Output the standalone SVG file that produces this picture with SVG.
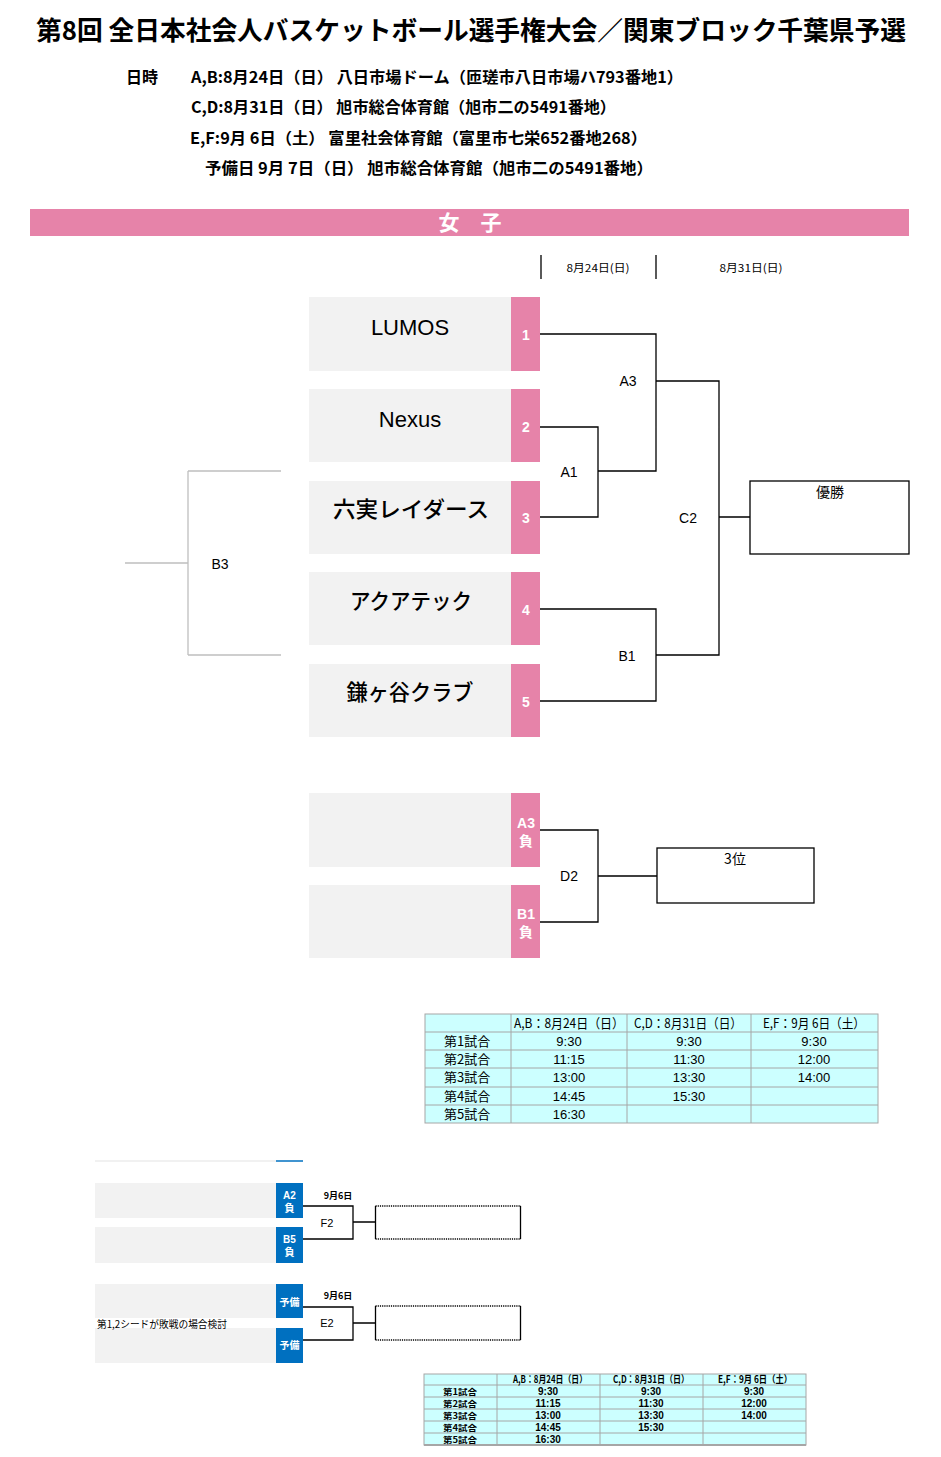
<svg xmlns="http://www.w3.org/2000/svg" width="941" height="1457" viewBox="0 0 941 1457">
<style>
text{font-family:"Liberation Sans","Noto Sans CJK JP",sans-serif;fill:#000}
.jp{font-family:"Noto Sans CJK JP",sans-serif}
.title{font-size:26px;font-weight:bold}
.info{font-size:16px;font-weight:bold}
.row{fill:#F2F2F2}
.tag{fill:#E683A9}
.btag{fill:#0070C0}
.name{font-size:22px;font-weight:500;text-anchor:middle}
.num{font-size:14px;font-weight:bold;fill:#fff;text-anchor:middle}
.btxt{font-size:10px;font-weight:bold;fill:#fff;text-anchor:middle}
.lbl{font-size:14px;text-anchor:middle}
.sm{font-size:11px;text-anchor:middle}
.ln{fill:none;stroke:#000;stroke-width:1.3}
.gl{fill:none;stroke:#BFBFBF;stroke-width:1.3}
.box{fill:#fff;stroke:#000;stroke-width:1.3}
.t1{font-size:13px}
.t2{font-size:10px;font-weight:bold}
.t2l{font-size:8.2px;font-weight:bold}
.c{text-anchor:middle}
.grid{fill:none;stroke:#A6A6A6;stroke-width:1}
</style>
<rect width="941" height="1457" fill="#fff"/>

<g id="header">
<text class="title jp" x="36" y="40" textLength="870" lengthAdjust="spacingAndGlyphs">第8回 全日本社会人バスケットボール選手権大会／関東ブロック千葉県予選</text>
<text class="info jp" x="126" y="83" textLength="32" lengthAdjust="spacingAndGlyphs">日時</text>
<text class="info jp" x="191" y="83" textLength="492" lengthAdjust="spacingAndGlyphs">A,B:8月24日（日） 八日市場ドーム（匝瑳市八日市場ハ793番地1）</text>
<text class="info jp" x="191" y="113" textLength="425" lengthAdjust="spacingAndGlyphs">C,D:8月31日（日） 旭市総合体育館（旭市二の5491番地）</text>
<text class="info jp" x="190" y="144" textLength="457" lengthAdjust="spacingAndGlyphs">E,F:9月 6日（土） 富里社会体育館（富里市七栄652番地268）</text>
<text class="info jp" x="205" y="174" textLength="448" lengthAdjust="spacingAndGlyphs">予備日 9月 7日（日） 旭市総合体育館（旭市二の5491番地）</text>
</g>

<g id="banner">
<rect x="30" y="209" width="879" height="27" fill="#E683A9"/>
<text class="jp" x="470" y="230" font-size="21" font-weight="bold" style="fill:#fff" text-anchor="middle">女　子</text>
</g>

<g id="dates">
<line class="ln" x1="541" y1="255" x2="541" y2="279"/>
<line class="ln" x1="656" y1="255" x2="656" y2="279"/>
<text class="sm jp" x="598" y="272" textLength="63" lengthAdjust="spacingAndGlyphs">8月24日(日)</text>
<text class="sm jp" x="751" y="272" textLength="63" lengthAdjust="spacingAndGlyphs">8月31日(日)</text>
</g>

<g id="team1">
<rect class="row" x="309" y="297" width="202" height="74"/>
<rect class="tag" x="511" y="297" width="29" height="74"/>
<text class="name" x="410" y="335">LUMOS</text>
<text class="num" x="526" y="340">1</text>
</g>
<g id="team2">
<rect class="row" x="309" y="389" width="202" height="73"/>
<rect class="tag" x="511" y="389" width="29" height="73"/>
<text class="name" x="410" y="427">Nexus</text>
<text class="num" x="526" y="432">2</text>
</g>
<g id="team3">
<rect class="row" x="309" y="481" width="202" height="73"/>
<rect class="tag" x="511" y="481" width="29" height="73"/>
<text class="name jp" x="411" y="517" textLength="156" lengthAdjust="spacingAndGlyphs">六実レイダース</text>
<text class="num" x="526" y="523">3</text>
</g>
<g id="team4">
<rect class="row" x="309" y="572" width="202" height="73"/>
<rect class="tag" x="511" y="572" width="29" height="73"/>
<text class="name jp" x="411" y="609" textLength="122" lengthAdjust="spacingAndGlyphs">アクアテック</text>
<text class="num" x="526" y="615">4</text>
</g>
<g id="team5">
<rect class="row" x="309" y="664" width="202" height="73"/>
<rect class="tag" x="511" y="664" width="29" height="73"/>
<text class="name jp" x="410" y="700" textLength="127" lengthAdjust="spacingAndGlyphs">鎌ヶ谷クラブ</text>
<text class="num" x="526" y="707">5</text>
</g>

<g id="champion">
<rect class="box" x="750" y="481" width="159" height="73"/>
<text class="lbl jp" x="830" y="497">優勝</text>
</g>

<g id="loserA3">
<rect class="row" x="309" y="793" width="202" height="74"/>
<rect class="tag" x="511" y="793" width="29" height="74"/>
<text class="num" x="526" y="828">A3</text>
<text class="num jp" x="526" y="846">負</text>
</g>
<g id="loserB1">
<rect class="row" x="309" y="885" width="202" height="73"/>
<rect class="tag" x="511" y="885" width="29" height="73"/>
<text class="num" x="526" y="919">B1</text>
<text class="num jp" x="526" y="937">負</text>
</g>
<g id="third">
<rect class="box" x="657" y="848" width="157" height="55"/>
<text class="lbl jp" x="735" y="864">3位</text>
</g>

<g id="connectors">
<path class="ln" d="M540,334 H656 V471 H598 M656,381 H719 V655 H656 M540,427 H598 V517 H540 M540,609 H656 V701 H540 M719,517 H750"/>
<path class="gl" d="M125,563 H188 M188,471 V655 M188,471 H281 M188,655 H281"/>
<path class="ln" d="M540,830 H598 V922 H540 M598,876 H657"/>
<path class="ln" d="M303,1206 H353 V1239 H303 M353,1222 H375"/>
<path class="ln" d="M303,1307 H353 V1340 H303 M353,1323 H375"/>
</g>

<g id="matchlabels">
<text class="lbl" x="628" y="386">A3</text>
<text class="lbl" x="569" y="477">A1</text>
<text class="lbl" x="688" y="523">C2</text>
<text class="lbl" x="627" y="661">B1</text>
<text class="lbl" x="220" y="569">B3</text>
<text class="lbl" x="569" y="881">D2</text>
</g>

<g id="table1">
<rect x="425" y="1014" width="453" height="109" fill="#CCFFFF" stroke="#A6A6A6"/>
<path class="grid" d="M425,1032 H878 M425,1050 H878 M425,1068 H878 M425,1087 H878 M425,1105 H878 M511,1014 V1123 M627,1014 V1123 M751,1014 V1123"/>
<text class="t1 jp c" x="569" y="1028" textLength="110" lengthAdjust="spacingAndGlyphs">A,B：8月24日（日）</text>
<text class="t1 jp c" x="688" y="1028" textLength="108" lengthAdjust="spacingAndGlyphs">C,D：8月31日（日）</text>
<text class="t1 jp c" x="814" y="1028" textLength="102" lengthAdjust="spacingAndGlyphs">E,F：9月 6日（土）</text>
<text class="t1 jp" x="444" y="1046">第1試合</text>
<text class="t1 jp" x="444" y="1064">第2試合</text>
<text class="t1 jp" x="444" y="1082">第3試合</text>
<text class="t1 jp" x="444" y="1101">第4試合</text>
<text class="t1 jp" x="444" y="1119">第5試合</text>
<text class="t1 c" x="569" y="1046">9:30</text>
<text class="t1 c" x="569" y="1064">11:15</text>
<text class="t1 c" x="569" y="1082">13:00</text>
<text class="t1 c" x="569" y="1101">14:45</text>
<text class="t1 c" x="569" y="1119">16:30</text>
<text class="t1 c" x="689" y="1046">9:30</text>
<text class="t1 c" x="689" y="1064">11:30</text>
<text class="t1 c" x="689" y="1082">13:30</text>
<text class="t1 c" x="689" y="1101">15:30</text>
<text class="t1 c" x="814" y="1046">9:30</text>
<text class="t1 c" x="814" y="1064">12:00</text>
<text class="t1 c" x="814" y="1082">14:00</text>
</g>

<g id="extra-top">
<line x1="95" y1="1161" x2="276" y2="1161" stroke="#EDEDED" stroke-width="1.5"/>
<line x1="276" y1="1161" x2="303" y2="1161" stroke="#0070C0" stroke-width="1.5"/>
</g>
<g id="lossA2">
<rect class="row" x="95" y="1183" width="181" height="35"/>
<rect class="btag" x="276" y="1183" width="27" height="35"/>
<text class="btxt" x="289.5" y="1199">A2</text>
<text class="btxt jp" x="289.5" y="1212">負</text>
</g>
<g id="lossB5">
<rect class="row" x="95" y="1227" width="181" height="36"/>
<rect class="btag" x="276" y="1227" width="27" height="36"/>
<text class="btxt" x="289.5" y="1243">B5</text>
<text class="btxt jp" x="289.5" y="1256">負</text>
</g>
<g id="reserve1">
<rect class="row" x="95" y="1284" width="181" height="34"/>
<rect class="btag" x="276" y="1284" width="27" height="34"/>
<text class="btxt jp" x="289.5" y="1306" font-size="9.5">予備</text>
</g>
<g id="reserve2">
<rect class="row" x="95" y="1328" width="181" height="35"/>
<rect class="btag" x="276" y="1328" width="27" height="35"/>
<text class="btxt jp" x="289.5" y="1349" font-size="9.5">予備</text>
</g>
<g id="note">
<text class="jp" x="97" y="1327.5" font-size="10" textLength="130" lengthAdjust="spacingAndGlyphs">第1,2シードが敗戦の場合検討</text>
</g>
<g id="F2">
<text class="jp c" x="338" y="1199" font-size="9" font-weight="bold">9月6日</text>
<text class="c" x="327" y="1227" font-size="11">F2</text>
<line x1="375.5" y1="1206" x2="521" y2="1206" stroke="#000" stroke-width="1.3" stroke-dasharray="1.2 1"/>
<line x1="375.5" y1="1239" x2="521" y2="1239" stroke="#000" stroke-width="1.3" stroke-dasharray="1.2 1"/>
<line class="ln" x1="375.5" y1="1206" x2="375.5" y2="1239"/>
<line class="ln" x1="520.5" y1="1206" x2="520.5" y2="1239"/>
</g>
<g id="E2">
<text class="jp c" x="338" y="1299" font-size="9" font-weight="bold">9月6日</text>
<text class="c" x="327" y="1327" font-size="11">E2</text>
<line x1="375.5" y1="1306" x2="521" y2="1306" stroke="#000" stroke-width="1.3" stroke-dasharray="1.2 1"/>
<line x1="375.5" y1="1340" x2="521" y2="1340" stroke="#000" stroke-width="1.3" stroke-dasharray="1.2 1"/>
<line class="ln" x1="375.5" y1="1306" x2="375.5" y2="1340"/>
<line class="ln" x1="520.5" y1="1306" x2="520.5" y2="1340"/>
</g>

<g id="table2">
<rect x="424" y="1374" width="382" height="71" fill="#CCFFFF" stroke="#A6A6A6"/>
<path class="grid" d="M424,1385 H806 M424,1397 H806 M424,1409 H806 M424,1421 H806 M424,1433 H806 M497,1374 V1445 M600,1374 V1445 M703,1374 V1445"/>
<line x1="424" y1="1445" x2="806" y2="1445" stroke="#A6A6A6" stroke-width="2"/>
<text class="t2 jp c" x="550" y="1383" font-size="9" textLength="74" lengthAdjust="spacingAndGlyphs">A,B：8月24日（日）</text>
<text class="t2 jp c" x="651" y="1383" font-size="9" textLength="76" lengthAdjust="spacingAndGlyphs">C,D：8月31日（日）</text>
<text class="t2 jp c" x="755" y="1383" font-size="9" textLength="74" lengthAdjust="spacingAndGlyphs">E,F：9月 6日（土）</text>
<text class="t2l jp" x="443" y="1394.5" textLength="34" lengthAdjust="spacingAndGlyphs">第1試合</text>
<text class="t2l jp" x="443" y="1406.5" textLength="34" lengthAdjust="spacingAndGlyphs">第2試合</text>
<text class="t2l jp" x="443" y="1418.5" textLength="34" lengthAdjust="spacingAndGlyphs">第3試合</text>
<text class="t2l jp" x="443" y="1430.5" textLength="34" lengthAdjust="spacingAndGlyphs">第4試合</text>
<text class="t2l jp" x="443" y="1442.5" textLength="34" lengthAdjust="spacingAndGlyphs">第5試合</text>
<text class="t2 c" x="548" y="1394.5">9:30</text>
<text class="t2 c" x="548" y="1406.5">11:15</text>
<text class="t2 c" x="548" y="1418.5">13:00</text>
<text class="t2 c" x="548" y="1430.5">14:45</text>
<text class="t2 c" x="548" y="1442.5">16:30</text>
<text class="t2 c" x="651" y="1394.5">9:30</text>
<text class="t2 c" x="651" y="1406.5">11:30</text>
<text class="t2 c" x="651" y="1418.5">13:30</text>
<text class="t2 c" x="651" y="1430.5">15:30</text>
<text class="t2 c" x="754" y="1394.5">9:30</text>
<text class="t2 c" x="754" y="1406.5">12:00</text>
<text class="t2 c" x="754" y="1418.5">14:00</text>
</g>
</svg>
